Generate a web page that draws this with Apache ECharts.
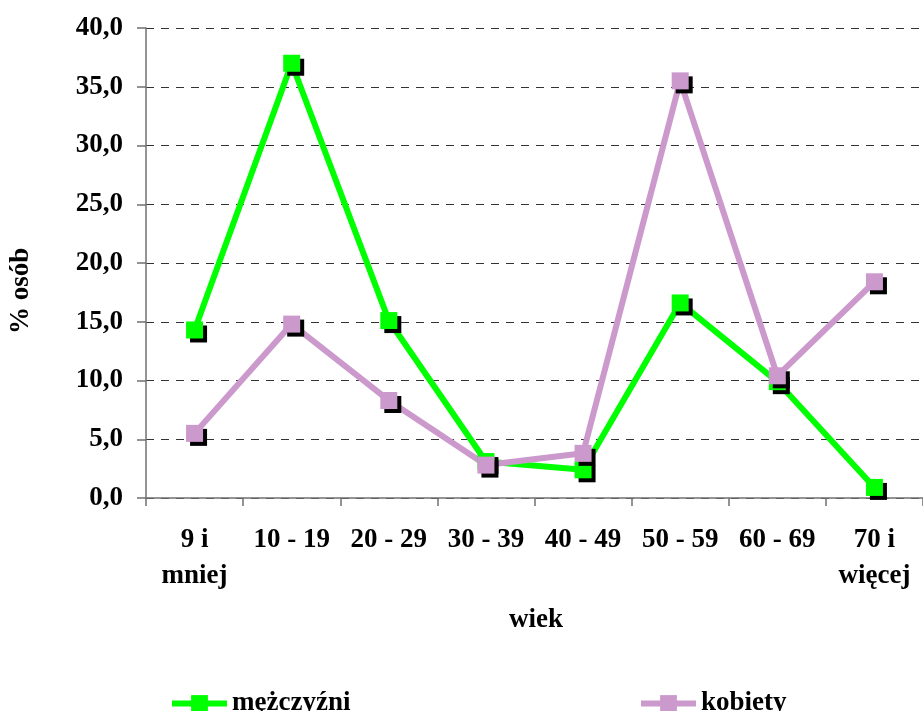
<!DOCTYPE html>
<html>
<head>
<meta charset="utf-8">
<script src="https://cdn.jsdelivr.net/npm/echarts@6/dist/echarts.min.js"></script>
<style>
html,body{margin:0;padding:0;background:#fff;}
#chart{width:923px;height:711px;}
</style>
</head>
<body>
<div id="chart"></div>
<script>
const categories = ['9 i\nmniej', '10 - 19', '20 - 29', '30 - 39', '40 - 49', '50 - 59', '60 - 69', '70 i\nwięcej'];
const menValues = [14.3, 37.0, 15.1, 3.1, 2.4, 16.6, 9.9, 0.9];
const womenValues = [5.5, 14.8, 8.3, 2.8, 3.8, 35.5, 10.4, 18.4];
const seriesNames = ['mężczyźni', 'kobiety'];
const yMin = 0, yMax = 40, yStep = 5;

const FONT = '"Liberation Serif", "Times New Roman", serif';
const FS = 27;
const txt = {fontFamily: FONT, fontWeight: 'bold', fontSize: FS, color: '#000'};

const chart = echarts.init(document.getElementById('chart'), null, {renderer: 'canvas'});

function lineSeries(name, data, color) {
  return {
    name: name,
    type: 'line',
    data: data,
    symbol: 'rect',
    symbolSize: 17,
    lineStyle: {color: color, width: 6},
    itemStyle: {color: color, shadowColor: '#000', shadowBlur: 0, shadowOffsetX: 4, shadowOffsetY: 4},
    emphasis: {disabled: true},
    animation: false
  };
}

const legendCommon = {
  itemWidth: 55, itemHeight: 21, itemGap: 5, textStyle: txt, selectedMode: false,
  lineStyle: {width: 6},
  itemStyle: {shadowColor: 'transparent', shadowOffsetX: 0, shadowOffsetY: 0}
};

chart.setOption({
  backgroundColor: '#fff',
  animation: false,
  grid: {left: 146, right: -1, top: 28, bottom: 213, containLabel: false},
  xAxis: {
    type: 'category',
    data: categories,
    boundaryGap: true,
    axisLine: {lineStyle: {color: '#707070', width: 1.5}},
    axisTick: {show: true, inside: false, length: 8, lineStyle: {color: '#707070', width: 1.5}},
    axisLabel: Object.assign({}, txt, {margin: 24, lineHeight: 36, interval: 0}),
    splitLine: {show: false}
  },
  yAxis: {
    type: 'value',
    min: yMin, max: yMax, interval: yStep,
    axisLine: {show: true, lineStyle: {color: '#707070', width: 1.5}},
    axisTick: {show: true, length: 9, lineStyle: {color: '#707070', width: 1.5}},
    axisLabel: Object.assign({}, txt, {margin: 23, formatter: v => v.toFixed(1).replace('.', ',')}),
    splitLine: {show: true, lineStyle: {color: '#333', width: 1, type: [8, 7]}}
  },
  legend: [
    Object.assign({data: [seriesNames[0]], left: 164, top: 685}, legendCommon),
    Object.assign({data: [seriesNames[1]], left: 633, top: 685}, legendCommon)
  ],
  graphic: [
    {type: 'text', left: 509, top: 607, style: {text: 'wiek', fill: '#000', font: 'bold ' + FS + 'px ' + FONT}},
    {type: 'text', x: 8, y: 334, rotation: Math.PI / 2, style: {text: '% osób', fill: '#000', font: 'bold ' + FS + 'px ' + FONT}}
  ],
  series: [
    lineSeries(seriesNames[0], menValues, '#00ff00'),
    lineSeries(seriesNames[1], womenValues, '#cc99cc')
  ]
});
</script>
</body>
</html>
